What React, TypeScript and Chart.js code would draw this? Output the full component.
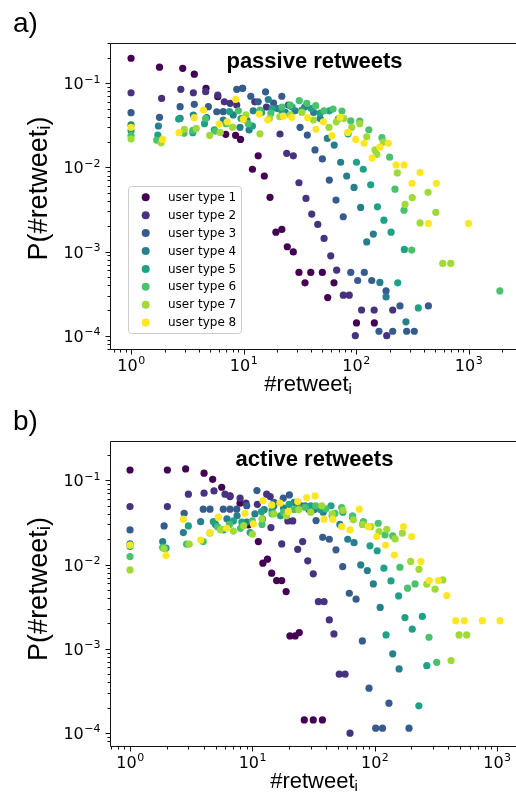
import React, { useEffect, useRef } from 'react';
import { Chart, registerables } from 'chart.js';

Chart.register(...registerables);

// ---------- categories ----------
const USER_TYPES = ['user type 1', 'user type 2', 'user type 3', 'user type 4', 'user type 5', 'user type 6', 'user type 7', 'user type 8'];
const COLORS = ['#440154', '#46327e', '#365c8d', '#277f8e', '#1fa187', '#4ac16d', '#a0da39', '#fde725'];

// ---------- axis tick labels ----------
const X_MAJOR_TICKS = [1, 10, 100, 1000];
const X_MAJOR_EXPONENTS = ['0', '1', '2', '3'];
const Y_MAJOR_TICKS = [1e-4, 1e-3, 1e-2, 1e-1];
const Y_MAJOR_EXPONENTS = ['\u22124', '\u22123', '\u22122', '\u22121'];

// ---------- panel a: passive retweets, [#retweet_i, P(#retweet_i)] ----------
const PASSIVE_TYPE1 = [[1, 0.198], [1.79, 0.155], [2.88, 0.150], [3.65, 0.128], [4.64, 0.087], [5.9, 0.069], [6.95, 0.0247], [8.5, 0.024], [9.4, 0.0215], [12, 0.0095], [13.5, 0.0137], [15.3, 0.0079], [17.2, 0.0044], [19.4, 0.0017], [21.9, 0.00183], [24.5, 0.00114], [27.7, 0.00099], [31.1, 0.000564], [35.2, 0.000425], [39.6, 0.000564], [50.2, 0.000564], [56, 0.000284], [63.7, 0.000425], [101, 0.000142], [145.5, 0.000142]];
const PASSIVE_TYPE2 = [[1, 0.077], [1.87, 0.066], [2.77, 0.0846], [3.58, 0.077], [4.61, 0.0792], [5.9, 0.072], [6.75, 0.060], [7.6, 0.0577], [8.7, 0.055], [9.8, 0.087], [12.6, 0.060], [16, 0.052], [21.1, 0.0249], [24.2, 0.0147], [27.7, 0.0137], [31.1, 0.00656], [35.9, 0.00428], [40.4, 0.00279], [45.7, 0.0021], [52, 0.00143], [59.6, 0.00089], [67.3, 0.0006], [77.1, 0.000303], [87.1, 0.000303], [98.6, 0.0001], [112, 0.000202], [145, 0.000202], [187.5, 0.0001], [212, 0.000202]];
const PASSIVE_TYPE3 = [[1, 0.0446], [1.79, 0.0393], [2.73, 0.0526], [3.65, 0.0561], [4.87, 0.0526], [5.78, 0.0458], [6.6, 0.046], [8.7, 0.0846], [9.8, 0.087], [11.6, 0.07], [13.5, 0.060], [15.7, 0.079], [18.5, 0.058], [21.9, 0.070], [25, 0.055], [31.8, 0.0299], [36.9, 0.0242], [43.2, 0.0161], [50.2, 0.0126], [57.9, 0.00706], [66.4, 0.00409], [77, 0.00259], [89.8, 0.000564], [103.5, 0.000453], [118.5, 0.000564], [138, 0.000453], [160, 0.000113], [185, 0.00034], [212, 0.000113], [246, 0.000226], [282, 0.000113], [330, 0.000113], [440, 0.000226]];
const PASSIVE_TYPE4 = [[1, 0.0319], [1.75, 0.031], [2.73, 0.0383], [3.58, 0.0419], [4.7, 0.039], [6.6, 0.0365], [8.1, 0.042], [9.3, 0.0299], [10.7, 0.0365], [11.2, 0.0278], [12.2, 0.047], [16.6, 0.064], [20, 0.05], [23.5, 0.045], [28.7, 0.047], [35, 0.052], [42, 0.045], [48, 0.038], [55.6, 0.0221], [64, 0.0184], [73, 0.0115], [82.6, 0.0079], [96, 0.00578], [110, 0.00334], [124.5, 0.0013], [142.5, 0.00161], [163, 0.00043], [185, 0.000289], [278, 0.000146]];
const PASSIVE_TYPE5 = [[1, 0.0272], [1.73, 0.0242], [2.65, 0.0375], [3.54, 0.0258], [4.5, 0.033], [5.5, 0.028], [7.5, 0.046], [9.5, 0.038], [12, 0.031], [14.5, 0.045], [18, 0.05], [22, 0.046], [27, 0.052], [33, 0.048], [40, 0.05], [48, 0.044], [58, 0.047], [70, 0.038], [85, 0.025], [101, 0.0115], [116, 0.0095], [135, 0.0062], [155, 0.0034], [177, 0.00236], [205, 0.0017], [235, 0.000425], [269, 0.00106], [358, 0.000214]];
const PASSIVE_TYPE6 = [[1, 0.0238], [1.69, 0.0211], [2.96, 0.0254], [3.54, 0.0275], [4.6, 0.038], [5.6, 0.027], [7, 0.033], [9, 0.047], [11, 0.033], [14, 0.048], [17.5, 0.044], [22, 0.052], [26, 0.055], [31.3, 0.062], [36.5, 0.0577], [43.8, 0.054], [52, 0.047], [62.5, 0.0493], [75, 0.0467], [89.8, 0.0358], [108, 0.0355], [130, 0.028], [170, 0.0225], [199, 0.0132], [222, 0.0055], [267, 0.0031], [313, 0.00104], [1900, 0.00034]];
const PASSIVE_TYPE7 = [[1, 0.0217], [1.85, 0.0196], [2.98, 0.0283], [3.8, 0.029], [5, 0.024], [6.2, 0.026], [8, 0.03], [10.5, 0.042], [14, 0.025], [17, 0.038], [21, 0.04], [26, 0.042], [33, 0.045], [41.8, 0.0365], [57.5, 0.0299], [66.8, 0.0348], [78, 0.038], [91.6, 0.0299], [108, 0.033], [124.5, 0.0231], [147.5, 0.0161], [153, 0.0143], [175, 0.02], [233, 0.0086], [273, 0.00363], [316, 0.00436], [371, 0.00219], [437, 0.00505], [512, 0.00292], [590, 0.000723], [695, 0.000723]];
const PASSIVE_TYPE8 = [[1, 0.0299], [1.91, 0.0215], [2.67, 0.0258], [3.65, 0.0389], [4.4, 0.048], [6.06, 0.0327], [7.18, 0.0348], [8.52, 0.0643], [9.96, 0.0372], [13.8, 0.043], [16.4, 0.0365], [22.6, 0.0407], [26.8, 0.0393], [37.2, 0.0389], [44.1, 0.0283], [51.3, 0.0348], [61.2, 0.0238], [72.1, 0.0393], [84.4, 0.026], [99.4, 0.0215], [118, 0.0193], [139, 0.0129], [163, 0.0174], [194, 0.0193], [227, 0.0107], [267, 0.0107], [315, 0.00646], [371, 0.0087], [440, 0.00216], [518, 0.00646], [1000, 0.00216]];

// ---------- panel b: active retweets, [#retweet_i, P(#retweet_i)] ----------
const ACTIVE_TYPE1 = [[1, 0.133], [2.02, 0.133], [2.85, 0.137], [4.03, 0.122], [4.74, 0.103], [5.62, 0.083], [6.57, 0.0655], [7.94, 0.0536], [9.28, 0.0296], [11.2, 0.0188], [12.2, 0.0104], [13.3, 0.0116], [14.4, 0.0079], [15.8, 0.00646], [17.4, 0.00646], [18.9, 0.00478], [20.3, 0.00142], [22.4, 0.00142], [24.2, 0.00156], [26.6, 0.000143], [31.5, 0.000143], [37.4, 0.000143]];
const ACTIVE_TYPE2 = [[1, 0.0489], [2.02, 0.0489], [3.0, 0.0686], [4.03, 0.0705], [4.86, 0.075], [5.98, 0.0686], [6.58, 0.0643], [7.94, 0.0615], [8.87, 0.0536], [11, 0.052], [13.1, 0.0686], [14, 0.0643], [14.2, 0.0275], [17.4, 0.0176], [19.5, 0.033], [21.4, 0.033], [23.5, 0.0152], [25.8, 0.0188], [28.4, 0.0111], [31.5, 0.00776], [34.7, 0.00363], [38.6, 0.00363], [42.6, 0.0022], [46.5, 0.0015], [51.4, 0.000499], [57.3, 0.000499], [62.9, 0.0000995]];
const ACTIVE_TYPE3 = [[1, 0.0258], [1.9, 0.0288], [2.77, 0.0407], [3.97, 0.0455], [4.51, 0.0455], [5.79, 0.0455], [6.57, 0.0455], [7.45, 0.0455], [9, 0.05], [10.9, 0.0757], [12.1, 0.0349], [15, 0.055], [17.9, 0.0615], [20.1, 0.0673], [25, 0.05], [29, 0.045], [33.2, 0.0333], [37.6, 0.0211], [42.6, 0.02], [48.3, 0.015], [54.8, 0.00946], [62.1, 0.00457], [70.5, 0.00388], [79.4, 0.00124], [90, 0.00034], [102, 0.000114], [116, 0.000114], [131, 0.000226], [191, 0.000114]];
const ACTIVE_TYPE4 = [[1, 0.0176], [1.85, 0.0188], [2.73, 0.024], [3.78, 0.0324], [5, 0.03], [6.2, 0.035], [7.5, 0.038], [9, 0.032], [10.5, 0.04], [12.5, 0.045], [15, 0.05], [18, 0.047], [22, 0.055], [27, 0.05], [32, 0.045], [38, 0.042], [45, 0.038], [52, 0.03], [60.3, 0.02], [67.9, 0.0182], [77, 0.0099], [87.2, 0.0085], [97.6, 0.0059], [111, 0.0031], [140.6, 0.00087], [158.5, 0.000577]];
const ACTIVE_TYPE5 = [[1, 0.0165], [1.97, 0.0157], [3.0, 0.0288], [4.8, 0.0324], [5.8, 0.0258], [7, 0.033], [8.2, 0.032], [9.6, 0.024], [11.9, 0.0427], [14.5, 0.044], [17, 0.038], [20, 0.052], [24, 0.048], [30, 0.05], [36, 0.045], [44, 0.05], [55, 0.042], [66, 0.036], [80, 0.03], [91.7, 0.0167], [105, 0.0146], [119, 0.00906], [124, 0.00146], [136, 0.0064], [157, 0.00425], [177, 0.00235], [203, 0.00171], [230, 0.00021], [245.6, 0.00242], [267, 0.00063]];
const ACTIVE_TYPE6 = [[1, 0.01245], [1.85, 0.016], [2.9, 0.0175], [3.97, 0.0188], [5.2, 0.028], [6.5, 0.03], [8, 0.027], [10, 0.033], [12, 0.03], [14.5, 0.04], [18, 0.042], [22, 0.045], [27, 0.048], [33, 0.05], [40, 0.046], [47.4, 0.0407], [53.8, 0.0475], [66, 0.038], [80.9, 0.0324], [107, 0.031], [121.6, 0.0225], [140.6, 0.0219], [161, 0.0093], [186, 0.00525], [214, 0.0059], [278.5, 0.00137], [322, 0.00069]];
const ACTIVE_TYPE7 = [[1, 0.00865], [1.9, 0.0155], [3.05, 0.0175], [4.5, 0.0236], [5.5, 0.026], [7, 0.025], [8.5, 0.029], [10, 0.023], [12, 0.035], [15, 0.04], [19, 0.038], [24, 0.045], [30, 0.042], [37, 0.05], [45, 0.04], [55, 0.044], [67, 0.034], [80, 0.03], [92.9, 0.0282], [108.6, 0.0247], [125.6, 0.0263], [147, 0.0202], [168.7, 0.0236], [197, 0.0109], [230.6, 0.0088], [267, 0.00585], [312, 0.0051], [361, 0.00657], [421.6, 0.000725], [490, 0.00146], [566, 0.00146]];
const ACTIVE_TYPE8 = [[1, 0.017], [1.97, 0.0128], [2.73, 0.0346], [3.78, 0.0196], [4.51, 0.024], [5.27, 0.0366], [6.17, 0.027], [8.71, 0.0407], [10.2, 0.0304], [12.2, 0.0575], [14.4, 0.0512], [16.8, 0.0536], [19.7, 0.0427], [23.5, 0.056], [27.8, 0.0625], [32.6, 0.0655], [38.6, 0.0346], [45.4, 0.0346], [53.8, 0.0282], [63, 0.0258], [75, 0.0455], [88.9, 0.0282], [104, 0.0215], [123, 0.0171], [145, 0.013], [172, 0.0282], [201, 0.0215], [239, 0.0109], [280, 0.00646], [332, 0.00646], [389, 0.00429], [460, 0.00216], [541, 0.00216], [760, 0.00216], [1060, 0.00216]];

const PASSIVE_SERIES = [PASSIVE_TYPE1, PASSIVE_TYPE2, PASSIVE_TYPE3, PASSIVE_TYPE4, PASSIVE_TYPE5, PASSIVE_TYPE6, PASSIVE_TYPE7, PASSIVE_TYPE8];
const ACTIVE_SERIES = [ACTIVE_TYPE1, ACTIVE_TYPE2, ACTIVE_TYPE3, ACTIVE_TYPE4, ACTIVE_TYPE5, ACTIVE_TYPE6, ACTIVE_TYPE7, ACTIVE_TYPE8];

type PanelCfg = {
  key: string; letter: string; title: string; series: number[][][];
  xMin: number; xMax: number; yMin: number; yMax: number;
  height: number; top: number; areaTop: number; areaBottom: number;
  legend: boolean; letterBaseline: number; yLabelCenter: number; xLabelCenter: number; titleBaseline: number;
};

const PANELS: PanelCfg[] = [
  { key: 'a', letter: 'a)', title: 'passive retweets', series: PASSIVE_SERIES, xMin: 0.65, xMax: 2644, yMin: 6.95e-5, yMax: 0.3003, height: 400, top: 0, areaTop: 43, areaBottom: 349, legend: true, letterBaseline: 32, yLabelCenter: 188.5, xLabelCenter: 308, titleBaseline: 67.5 },
  { key: 'b', letter: 'b)', title: 'active retweets', series: ACTIVE_SERIES, xMin: 0.686, xMax: 1432, yMin: 7.07e-5, yMax: 0.294, height: 397, top: 400, areaTop: 41, areaBottom: 346, legend: false, letterBaseline: 30, yLabelCenter: 189, xLabelCenter: 314, titleBaseline: 66 },
];

const W = 516;
const SANS = '"Liberation Sans", Arial, sans-serif';
const DEJAVU = '"DejaVu Sans", sans-serif';

function minorTicks(min: number, max: number): number[] {
  const out: number[] = [];
  for (let k = Math.floor(Math.log10(min)); k <= Math.ceil(Math.log10(max)); k++) {
    for (let m = 2; m <= 9; m++) {
      const v = m * Math.pow(10, k);
      if (v >= min && v <= max) out.push(v);
    }
  }
  return out;
}

function drawParts(ctx: CanvasRenderingContext2D, parts: { t: string; sub?: boolean }[], cx: number, baseline: number, size: number) {
  const big = `${size}px ${SANS}`;
  const small = `${Math.round(size * 0.7)}px ${SANS}`;
  const widths = parts.map((p) => { ctx.font = p.sub ? small : big; return ctx.measureText(p.t).width; });
  let x = cx - widths.reduce((a, b) => a + b, 0) / 2;
  ctx.textAlign = 'left';
  ctx.textBaseline = 'alphabetic';
  parts.forEach((p, i) => {
    ctx.font = p.sub ? small : big;
    ctx.fillText(p.t, x, p.sub ? baseline + size * 0.14 : baseline);
    x += widths[i];
  });
}

function drawPow(ctx: CanvasRenderingContext2D, exp: string, x: number, baseline: number, align: 'center' | 'right') {
  const big = `16px ${DEJAVU}`;
  const small = `11px ${DEJAVU}`;
  ctx.font = big; const w1 = ctx.measureText('10').width;
  ctx.font = small; const w2 = ctx.measureText(exp).width;
  const total = w1 + w2;
  const start = align === 'center' ? x - total / 2 : x - total;
  ctx.textAlign = 'left';
  ctx.textBaseline = 'alphabetic';
  ctx.font = big; ctx.fillText('10', start, baseline);
  ctx.font = small; ctx.fillText(exp, start + w1 + 0.5, baseline - 6.5);
}

function makeDecor(p: PanelCfg) {
  return {
    id: 'decor_' + p.key,
    afterDatasetsDraw(chart: any) {
      const ctx: CanvasRenderingContext2D = chart.ctx;
      const ca = chart.chartArea;
      const xs = chart.scales.x;
      const ys = chart.scales.y;
      const L = Math.round(ca.left) + 0.5;
      const B = Math.round(ca.bottom) + 0.5;
      const T = Math.round(ca.top) + 0.5;
      ctx.save();
      ctx.strokeStyle = '#111';
      ctx.fillStyle = '#000';
      ctx.lineWidth = 1;
      // spines
      ctx.beginPath();
      ctx.moveTo(L, T); ctx.lineTo(L, B); ctx.lineTo(ca.right + 2, B);
      ctx.moveTo(L, T); ctx.lineTo(ca.right + 2, T);
      ctx.stroke();
      // ticks
      ctx.beginPath();
      X_MAJOR_TICKS.forEach((v) => { const px = Math.round(xs.getPixelForValue(v)) + 0.5; ctx.moveTo(px, B); ctx.lineTo(px, B + 5); });
      minorTicks(p.xMin, p.xMax).forEach((v) => { const px = Math.round(xs.getPixelForValue(v)) + 0.5; ctx.moveTo(px, B); ctx.lineTo(px, B + 3); });
      Y_MAJOR_TICKS.forEach((v) => { const py = Math.round(ys.getPixelForValue(v)) + 0.5; ctx.moveTo(L, py); ctx.lineTo(L - 5, py); });
      minorTicks(p.yMin, p.yMax).forEach((v) => { const py = Math.round(ys.getPixelForValue(v)) + 0.5; ctx.moveTo(L, py); ctx.lineTo(L - 3, py); });
      ctx.stroke();
      // tick labels
      X_MAJOR_TICKS.forEach((v, i) => drawPow(ctx, X_MAJOR_EXPONENTS[i], xs.getPixelForValue(v), ca.bottom + 21.5, 'center'));
      Y_MAJOR_TICKS.forEach((v, i) => drawPow(ctx, Y_MAJOR_EXPONENTS[i], ca.left - 10, ys.getPixelForValue(v) + 6, 'right'));
      // axis titles
      drawParts(ctx, [{ t: '#retweet' }, { t: 'i', sub: true }], p.xLabelCenter, ca.bottom + 41.5, 22);
      ctx.save();
      ctx.translate(46.5, p.yLabelCenter);
      ctx.rotate(-Math.PI / 2);
      drawParts(ctx, [{ t: 'P(#retweet' }, { t: 'i', sub: true }, { t: ')' }], 0, 0, 27);
      ctx.restore();
      // panel letter
      ctx.font = `28px ${SANS}`;
      ctx.textAlign = 'left';
      ctx.textBaseline = 'alphabetic';
      ctx.fillText(p.letter, 13, p.letterBaseline);
      // in-plot title
      ctx.font = `bold 22px ${SANS}`;
      ctx.textAlign = 'center';
      ctx.fillText(p.title, 314.5, p.titleBaseline);
      // legend
      if (p.legend) {
        const lx = 128.5, ly = 186.5, lw = 113, lh = 147;
        ctx.beginPath();
        (ctx as any).roundRect(lx, ly, lw, lh, 3);
        ctx.fillStyle = 'rgba(255,255,255,0.8)';
        ctx.fill();
        ctx.strokeStyle = '#cccccc';
        ctx.stroke();
        USER_TYPES.forEach((name, i) => {
          const cy = 197.3 + 17.9 * i;
          ctx.beginPath();
          ctx.arc(145.7, cy, 4, 0, Math.PI * 2);
          ctx.fillStyle = COLORS[i];
          ctx.fill();
          ctx.fillStyle = '#000';
          ctx.font = `12px ${DEJAVU}`;
          ctx.textAlign = 'left';
          ctx.textBaseline = 'middle';
          ctx.fillText(name, 168, cy + 0.5);
        });
      }
      ctx.restore();
    },
  };
}

function Panel({ p }: { p: PanelCfg }) {
  const ref = useRef<HTMLCanvasElement>(null);
  useEffect(() => {
    if (!ref.current) return;
    const chart = new Chart(ref.current, {
      type: 'scatter',
      data: {
        datasets: p.series.map((s, i) => ({
          label: USER_TYPES[i],
          data: s.map(([x, y]) => ({ x, y })),
          backgroundColor: COLORS[i],
          borderColor: COLORS[i],
          borderWidth: 0,
          pointRadius: 3.6,
          pointHoverRadius: 3.6,
          order: 8 - i,
        })),
      },
      options: {
        responsive: false,
        animation: false,
        events: [],
        devicePixelRatio: 1,
        layout: { padding: { top: p.areaTop, left: 0, right: 0, bottom: 0 }, autoPadding: false },
        plugins: { legend: { display: false }, tooltip: { enabled: false }, title: { display: false } },
        scales: {
          x: {
            type: 'logarithmic', min: p.xMin, max: p.xMax, offset: false,
            grid: { display: false }, border: { display: false }, ticks: { display: false },
            afterFit: (s: any) => { s.height = p.height - p.areaBottom; },
          },
          y: {
            type: 'logarithmic', min: p.yMin, max: p.yMax, offset: false,
            grid: { display: false }, border: { display: false }, ticks: { display: false },
            afterFit: (s: any) => { s.width = 110; },
          },
        },
      } as any,
      plugins: [makeDecor(p)],
    });
    return () => chart.destroy();
  }, [p]);
  return (
    <canvas
      ref={ref}
      width={W}
      height={p.height}
      style={{ position: 'absolute', left: 0, top: p.top, width: W, height: p.height, display: 'block' }}
    />
  );
}

export default function App() {
  return (
    <div style={{ position: 'absolute', left: 0, top: 0, width: W, height: 797, background: '#fff', overflow: 'hidden' }}>
      {PANELS.map((p) => <Panel key={p.key} p={p} />)}
    </div>
  );
}
